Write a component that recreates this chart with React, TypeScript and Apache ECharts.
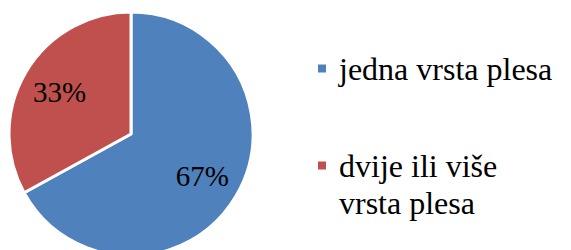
import React, { useEffect, useRef } from "react";
import * as echarts from "echarts";

const categories: string[] = ["jedna vrsta plesa", "dvije ili više vrsta plesa"];
const values: number[] = [67, 33];
const colors: string[] = ["#4F81BD", "#C0504D"];

const FONT = "Liberation Serif";

const richText = {
  a: {
    fontFamily: FONT,
    fontSize: 32,
    color: "#000",
    lineHeight: 37,
    padding: [0, 0, 0, 8],
  },
};

export default function App() {
  const ref = useRef<HTMLDivElement>(null);
  useEffect(() => {
    if (!ref.current) return;
    const chart = echarts.init(ref.current, undefined, { renderer: "svg" });
    const data = categories.map((name, i) => ({
      name,
      value: values[i],
      itemStyle: { color: colors[i] },
    }));
    const legendCommon = {
      orient: "vertical",
      left: 318,
      padding: 0,
      itemWidth: 8,
      itemStyle: { borderWidth: 0 },
      selectedMode: false,
      formatter: "{a|{name}}",
    };
    chart.setOption({
      animation: false,
      legend: [
        {
          ...legendCommon,
          top: 50,
          icon: "rect",
          itemHeight: 8,
          textStyle: { lineHeight: 37, rich: richText },
          data: [categories[0]],
        },
        {
          ...legendCommon,
          top: 147,
          icon: "path://M0,0H8V8H0Z M0,45L0.01,45",
          itemHeight: 45,
          textStyle: {
            lineHeight: 37,
            width: 245,
            overflow: "break",
            rich: richText,
          },
          data: [categories[1]],
        },
      ],
      series: [
        {
          type: "pie",
          center: [131, 134],
          radius: [0, 122],
          startAngle: 90,
          clockwise: true,
          silent: true,
          label: { show: false },
          labelLine: { show: false },
          itemStyle: { borderColor: "#fff", borderWidth: 3 },
          emphasis: { disabled: true },
          data,
        },
        {
          type: "pie",
          center: [131, 134],
          radius: [39, 121],
          startAngle: 90,
          clockwise: true,
          silent: true,
          itemStyle: { color: "transparent", borderWidth: 0 },
          label: {
            show: true,
            position: "inside",
            formatter: "{d}%",
            fontFamily: FONT,
            fontSize: 29,
            color: "#000",
          },
          labelLine: { show: false },
          emphasis: { disabled: true },
          data: categories.map((name, i) => ({ name, value: values[i] })),
        },
      ],
    });
    return () => chart.dispose();
  }, []);
  return (
    <div
      ref={ref}
      style={{ position: "absolute", left: 0, top: 0, width: 571, height: 250 }}
    />
  );
}
